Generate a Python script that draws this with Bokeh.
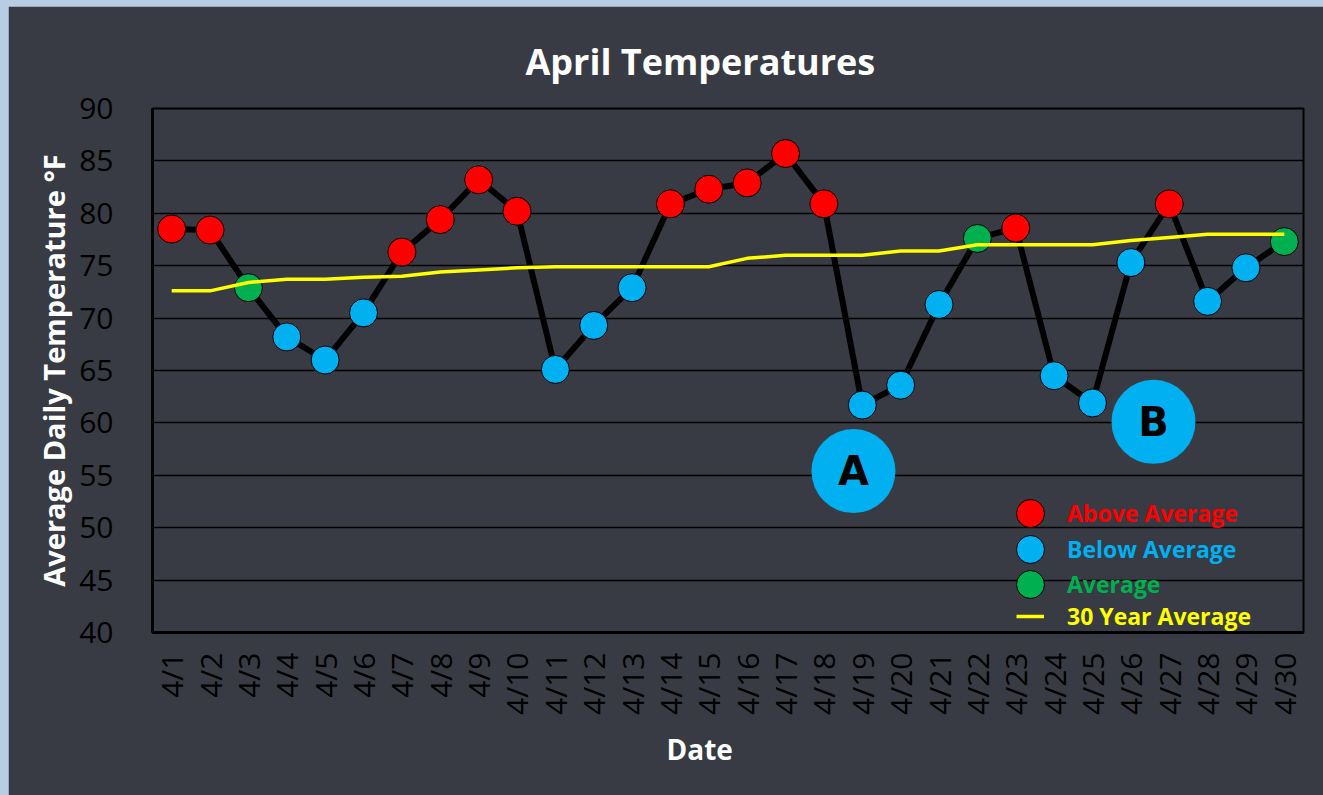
import math
from bokeh.plotting import figure
from bokeh.layouts import column
from bokeh.models import (ColumnDataSource, FixedTicker, SingleIntervalTicker, Legend,
                          LegendItem, Title, Range1d)
from bokeh.core.properties import value
from bokeh.embed import file_html
from bokeh.resources import INLINE

# ---------------- data ----------------
dates = ["4/1", "4/2", "4/3", "4/4", "4/5", "4/6", "4/7", "4/8", "4/9", "4/10",
         "4/11", "4/12", "4/13", "4/14", "4/15", "4/16", "4/17", "4/18", "4/19", "4/20",
         "4/21", "4/22", "4/23", "4/24", "4/25", "4/26", "4/27", "4/28", "4/29", "4/30"]
temps = [78.5, 78.4, 72.9, 68.2, 66.0, 70.5, 76.3, 79.4, 83.2, 80.2,
         65.1, 69.3, 72.9, 80.9, 82.3, 82.9, 85.7, 80.9, 61.7, 63.6,
         71.3, 77.6, 78.6, 64.5, 61.9, 75.3, 80.9, 71.6, 74.8, 77.3]
normals = [72.6, 72.6, 73.4, 73.7, 73.7, 73.9, 74.0, 74.4, 74.6, 74.8,
           74.9, 74.9, 74.9, 74.9, 74.9, 75.7, 76.0, 76.0, 76.0, 76.4,
           76.4, 77.0, 77.0, 77.0, 77.0, 77.4, 77.7, 78.0, 78.0, 78.0]
status = ["above", "above", "avg", "below", "below", "below", "above", "above", "above", "above",
          "below", "below", "below", "above", "above", "above", "above", "above", "below", "below",
          "below", "avg", "above", "below", "below", "below", "above", "below", "below", "avg"]
callout_labels = ["A", "B"]
callout_x = [18.77, 26.59]
callout_y = [55.4, 60.1]

# ---------------- styling ----------------
BG = "#383b43"
FRAME = "#b8cce4"
RED = "#ff0000"
BLUE = "#00b0f0"
GREEN = "#00b050"
YELLOW = "#ffff00"
FONT = "Open Sans"

day = list(range(1, len(dates) + 1))

fig = figure(width=1315, height=789, output_backend="svg", toolbar_location=None,
             x_range=Range1d(0.5, len(dates) + 0.5), y_range=Range1d(40, 90),
             min_border_left=144, min_border_right=20, min_border_top=102, min_border_bottom=163,
             background_fill_color=BG, border_fill_color=BG,
             outline_line_color="black", outline_line_width=2)
fig.margin = (6, 0, 0, 8)

fig.title = Title(text="April Temperatures", align="left", offset=373,
                  text_font=FONT, text_font_size="36px", text_font_style="bold",
                  text_color="white", standoff=46)

# x axis title placed as a below-title so it can sit left of centre like the reference
fig.add_layout(Title(text="Date", align="left", offset=514,
                     text_font=FONT, text_font_size="28px", text_font_style="bold",
                     text_color="white", standoff=21), "below")

# axes
fig.xaxis.ticker = FixedTicker(ticks=day)
fig.xaxis.major_label_overrides = {d: lab for d, lab in zip(day, dates)}
fig.xaxis.major_label_orientation = math.pi / 2
fig.xaxis.major_label_text_font = FONT
fig.xaxis.major_label_text_font_size = "30px"
fig.xaxis.major_label_text_color = "black"
fig.xaxis.major_label_standoff = 14

fig.yaxis.ticker = SingleIntervalTicker(interval=5, num_minor_ticks=0)
fig.yaxis.major_label_text_font = FONT
fig.yaxis.major_label_text_font_size = "30px"
fig.yaxis.major_label_text_color = "black"
fig.yaxis.major_label_standoff = 33
fig.yaxis.axis_label = "Average Daily Temperature °F"
fig.yaxis.axis_label_text_font = FONT
fig.yaxis.axis_label_text_font_size = "29px"
fig.yaxis.axis_label_text_font_style = "bold"
fig.yaxis.axis_label_text_color = "white"
fig.yaxis.axis_label_standoff = 3

for ax in (fig.xaxis, fig.yaxis):
    ax.major_tick_line_color = None
    ax.minor_tick_line_color = None
    ax.axis_line_color = "black"
    ax.axis_line_width = 3

fig.xgrid.visible = False
fig.ygrid.grid_line_color = "black"
fig.ygrid.grid_line_width = 1.5

# temperature line
src = ColumnDataSource(dict(x=day, t=temps, n=normals))
fig.line("x", "t", source=src, line_color="black", line_width=6, line_join="round")

marker_r = {}
for key, col in (("above", RED), ("below", BLUE), ("avg", GREEN)):
    xs = [d for d, s in zip(day, status) if s == key]
    ys = [t for t, s in zip(temps, status) if s == key]
    marker_r[key] = fig.scatter(xs, ys, size=28, fill_color=col, line_color="black", line_width=1)

avg_r = fig.line("x", "n", source=src, line_color=YELLOW, line_width=3.5)

# callouts
csrc = ColumnDataSource(dict(x=callout_x, y=callout_y, t=callout_labels))
fig.scatter("x", "y", source=csrc, size=84, fill_color=BLUE, line_color=None)
fig.text("x", "y", text="t", source=csrc, text_align="center", text_baseline="middle",
         text_font=value("DejaVu Sans"), text_font_style="bold", text_font_size="40px",
         text_color="black")

# legends (one per entry so each label keeps its own colour)
def add_legend(label, renderer, color, loc, gw, gh, standoff):
    lg = Legend(items=[LegendItem(label=label, renderers=[renderer])], location=loc,
                glyph_width=gw, glyph_height=gh, label_standoff=standoff,
                label_text_font=FONT, label_text_font_size="23px", label_text_font_style="bold",
                label_text_color=color, background_fill_alpha=0, border_line_color=None,
                padding=0, margin=0, spacing=0, label_height=24)
    fig.add_layout(lg, "center")

add_legend("Above Average", marker_r["above"], RED, (843, 84), 70, 70, 2)
add_legend("Below Average", marker_r["below"], BLUE, (843, 48), 70, 70, 2)
add_legend("Average", marker_r["avg"], GREEN, (843, 13), 70, 70, 2)
add_legend("30 Year Average", avg_r, YELLOW, (864, 0), 28, 24, 23)

p = column(fig, styles={"background-color": FRAME})

open("out.html", "w").write(file_html(p, INLINE))
